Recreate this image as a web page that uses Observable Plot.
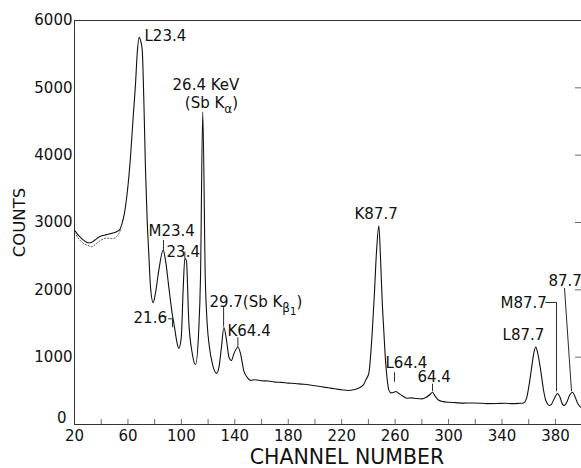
<!DOCTYPE html>
<html>
<head>
<meta charset="utf-8">
<script src="https://cdn.jsdelivr.net/npm/d3@7"></script>
<script src="https://cdn.jsdelivr.net/npm/@observablehq/plot@0.6"></script>
<style>
  body { margin: 0; background: #fff; }
  #chart { width: 581px; height: 468px; }
</style>
</head>
<body>
<div id="chart"></div>
<script>
// Pulse-height spectrum: counts per channel
const channel = [
  20, 21, 22, 24, 26, 28, 30, 32, 34, 36, 38, 40, 42, 44, 46, 48, 50, 52, 53.7, 55.5,
  57.4, 59.4, 61.9, 63.9, 65.7, 66.9, 68.4, 69.5, 70.7, 71.9, 73.1, 74.4, 75.6, 76.9, 78.9,
  80.6, 83.1, 86.4, 88.1, 90.6, 93.1, 94.9, 96.4, 98.1, 99.9, 101.4, 102.6, 103.8, 105.5,
  108.1, 110.6, 113, 114.3, 116, 117.9, 119.3, 121, 123.1, 126.3, 128.2, 130, 131.8, 133.8,
  135.6, 137.4, 139.3, 142.3, 144.3, 146.7, 149.3, 151.7, 155, 160, 165, 170, 175, 180, 185,
  190, 195, 200, 205, 210, 215, 220, 225, 229, 232, 234.5, 236.6, 238.5, 240.3, 242.8, 244.5,
  246, 247.8, 249, 250.3, 251.5, 252.8, 254, 255.3, 257, 259, 260.5, 262.8, 266, 269, 272,
  276, 280, 283, 286, 288, 290, 292.7, 296, 300, 305, 311, 318, 325, 330, 336.6, 342, 348,
  353, 356, 358.5, 360, 362, 364, 365.3, 366.5, 369, 371, 372.7, 374, 375.3, 377, 379, 381.5,
  383.5, 385, 386.5, 388.5, 390.5, 392.8, 394.5, 396.5, 398.5, 399.5
];
const counts = [
  2880, 2860, 2830, 2790, 2750, 2720, 2700, 2700, 2720, 2750, 2780, 2800, 2810, 2820, 2830, 2840, 2850, 2870, 2890, 2980,
  3140, 3430, 3970, 4560, 5070, 5500, 5750, 5700, 5560, 4820, 3820, 3030, 2540, 2040, 1810,
  1950, 2290, 2590, 2440, 2040, 1650, 1440, 1250, 1130, 1290, 2040, 2470, 2430, 1550,
  1060, 890, 1400, 2170, 4640, 2170, 1500, 1150, 910, 760, 860, 1150, 1440, 1250,
  1000, 950, 1050, 1150, 1050, 800, 700, 655, 665, 650, 645, 630, 625, 615, 610,
  600, 590, 575, 560, 545, 530, 515, 505, 515, 535, 560, 600, 680, 760, 1350, 1950,
  2550, 2950, 2500, 1840, 1400, 950, 680, 510, 470, 480, 490, 460, 420, 390, 395,
  385, 380, 400, 445, 480, 420, 360, 340, 330, 325, 317, 320, 315, 310, 312, 315, 310,
  315, 320, 400, 554, 820, 1080, 1150, 1080, 800, 520, 360, 310, 282, 300, 380, 460,
  400, 310, 282, 330, 430, 480, 420, 320, 265, 250
];

// Second (repeat) trace over the low channels
const repeatChannel = [20, 22, 26, 30, 33, 36, 40, 44, 48, 52, 55];
const repeatCounts = [2850, 2790, 2700, 2660, 2640, 2680, 2740, 2770, 2760, 2800, 2910];

// Axis ticks
const xTicks = [20, 60, 100, 140, 180, 220, 260, 300, 340, 380];
const xMinorTicks = [40, 60, 80, 100, 120, 140, 160, 180, 200, 220, 240, 260, 280, 300, 320, 340, 360, 380];
const yTicks = [1000, 2000, 3000, 4000, 5000, 6000];
const yOrigin = [0];
const yRightTicks = [1000, 2000, 3000, 4000, 5000];

// Peak identifications ("_" marks a subscripted character)
const labelText = ["L23.4", "26.4 KeV", "(Sb K_α)", "M23.4", "23.4", "21.6", "29.7(Sb K_β_1)",
  "K64.4", "K87.7", "L64.4", "64.4", "L87.7", "M87.7", "87.7"];
const labelChannel = [72.4, 93.4, 102.6, 75.4, 88.9, 64.2, 121.0, 134.5, 229.6, 252.8, 276.7, 340.4, 338.9, 374.8];
const labelCount = [5766, 5035, 4765, 2868, 2556, 1575, 1813, 1382, 3121, 906, 698, 1323, 1798, 2125];

// Leader lines from labels to peaks
const leaderId = [1, 1, 2, 2, 3, 3, 4, 4, 4, 5, 5, 6, 6, 7, 7, 8, 8, 9, 9, 9, 10, 10];
const leaderChannel = [86.6, 86.6, 102.6, 102.6, 85.6, 88.6, 90.4, 93.4, 93.4, 131.6, 131.6, 142.3, 142.3,
  259.5, 259.5, 288, 288, 372.7, 380.8, 380.8, 386.8, 392];
const leaderCount = [2734, 2600, 2560, 2480, 1605, 1605, 1570, 1570, 1450, 1740, 1460, 1290, 1160,
  770, 640, 600, 500, 1813, 1813, 500, 2020, 500];

const spectrum = channel.map((c, i) => ({channel: c, counts: counts[i]}));
const repeat = repeatChannel.map((c, i) => ({channel: c, counts: repeatCounts[i]}));
const labels = labelText.map((t, i) => ({text: t, channel: labelChannel[i], counts: labelCount[i]}));
const leaders = leaderId.map((id, i) => ({id, channel: leaderChannel[i], counts: leaderCount[i]}));

const ink = "#111";

const chart = Plot.plot({
  width: 581,
  height: 468,
  marginLeft: 74,
  marginRight: 0,
  marginTop: 20,
  marginBottom: 44,
  style: {fontFamily: "'DejaVu Sans', sans-serif", fontSize: "15px", background: "#fff", color: ink},
  x: {domain: [20, 399.5], axis: null},
  y: {domain: [0, 6000], axis: null},
  marks: [
    // frame lines
    Plot.ruleX([20], {stroke: "#333", strokeWidth: 1}),
    Plot.ruleY([0, 6000], {stroke: "#333", strokeWidth: 1}),
    Plot.tickX(xMinorTicks, {x: d => d, insetTop: 399, stroke: "#444", strokeWidth: 0.8}),
    Plot.tickY(yRightTicks, {y: d => d, insetLeft: 501, stroke: "#444", strokeWidth: 0.8}),
    Plot.axisX(xTicks, {tickSize: 0, tickPadding: 6, fontSize: 15, fill: ink, label: null, tickFormat: d => String(d)}),
    Plot.axisY(yTicks, {tickSize: 0, tickPadding: 2, fontSize: 15, fill: ink, label: null, tickFormat: d => String(d)}),
    // the origin label sits up and left of the corner
    Plot.axisY(yOrigin, {tickSize: 0, tickPadding: 2, dx: -6, dy: -6, fontSize: 15, fill: ink, label: null, tickFormat: d => String(d)}),
    // spectrum
    Plot.line(repeat, {x: "channel", y: "counts", stroke: "#555", strokeWidth: 1, strokeDasharray: "1.2,2", curve: "monotone-x"}),
    Plot.line(spectrum, {x: "channel", y: "counts", stroke: ink, strokeWidth: 1.1, curve: "monotone-x"}),
    // annotations
    Plot.line(leaders, {x: "channel", y: "counts", z: "id", stroke: ink, strokeWidth: 0.9}),
    Plot.text(labels, {x: "channel", y: "counts", text: "text", textAnchor: "start", fontSize: 15, fill: ink}),
    // axis titles
    Plot.text(["CHANNEL NUMBER"], {frameAnchor: "bottom", lineAnchor: "middle", dx: 19, dy: 33, fontSize: 20.5, fill: ink}),
    Plot.text(["COUNTS"], {frameAnchor: "left", textAnchor: "middle", lineAnchor: "middle", rotate: -90, dx: -55, fontSize: 16.5, fill: ink})
  ]
});

// Render "_x" sequences as (nested) subscripts
function applySubscripts(el) {
  const s = el.textContent;
  const parts = [];
  let lastLevel = 0;
  for (let i = 0; i < s.length; i++) {
    if (s[i] === "_" && i + 1 < s.length) {
      const lv = lastLevel + 1;
      parts.push([s[++i], lv]);
      lastLevel = lv;
    } else {
      parts.push([s[i], 0]);
      lastLevel = 0;
    }
  }
  const groups = [];
  for (const [ch, lv] of parts) {
    const g = groups[groups.length - 1];
    if (g && g.lv === lv) g.text += ch; else groups.push({text: ch, lv});
  }
  el.textContent = "";
  const shift = [0, 4.5, 8];
  let cur = 0;
  groups.forEach((g, k) => {
    const t = document.createElementNS("http://www.w3.org/2000/svg", "tspan");
    t.textContent = g.text;
    if (k > 0) t.setAttribute("dy", (shift[g.lv] - shift[cur]) + "px");
    if (g.lv > 0) t.setAttribute("font-size", g.lv === 1 ? "12px" : "10px");
    cur = g.lv;
    el.appendChild(t);
  });
}
chart.querySelectorAll("text").forEach(el => {
  if (el.textContent.includes("_")) applySubscripts(el);
});

document.getElementById("chart").appendChild(chart);
</script>
</body>
</html>
